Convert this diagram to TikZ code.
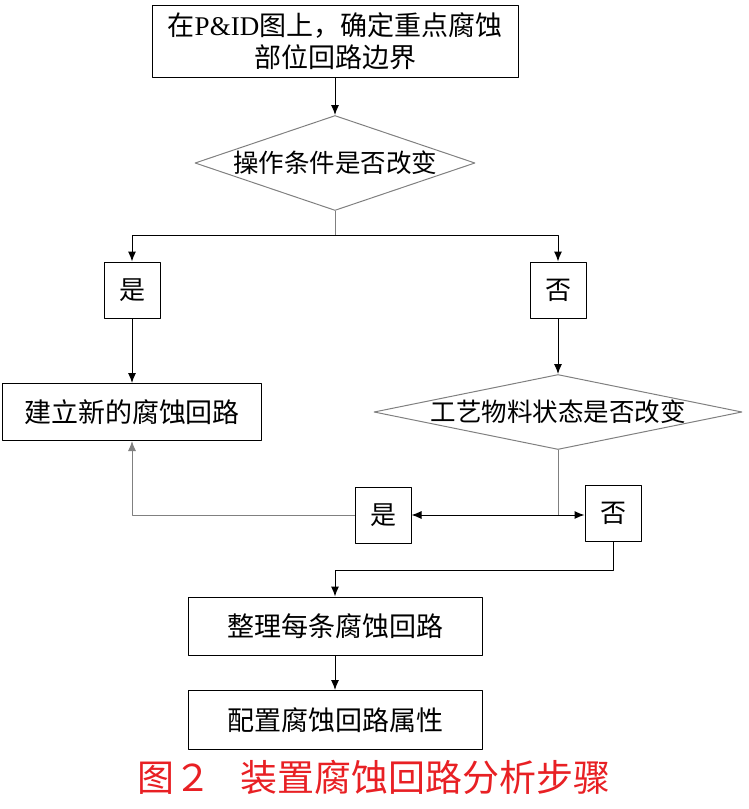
\documentclass[tikz,border=0pt]{standalone}
\usepackage{fontspec}
\setmainfont{Liberation Serif}
\newfontfamily\cjk{Noto Sans CJK SC}
\usetikzlibrary{shapes.geometric,arrows.meta}
\definecolor{captionred}{RGB}{232,32,36}
\tikzset{
  stepbox/.style={draw,line width=1pt,inner sep=0pt,align=center,
    font=\cjk\fontsize{27}{32}\selectfont},
  answer/.style={stepbox,minimum width=56pt,minimum height=56pt,
    font=\cjk\fontsize{26}{30}\selectfont},
  decision/.style={draw=gray,line width=1pt,diamond,inner sep=0pt,
    label={[font=\cjk\fontsize{25.5}{30}\selectfont]center:#1}},
}
\begin{document}
\begin{tikzpicture}[x=1pt,y=-1pt,>={Latex[length=10pt,width=8pt]},line join=round,line width=1pt]
\useasboundingbox (0,0) rectangle (748,809);
% steps
\node[stepbox,minimum width=366pt,minimum height=72pt] (start) at (335,41)
  {在{\rmfamily P\&ID}图上，确定重点腐蚀\\部位回路边界};
\node[decision=操作条件是否改变,minimum width=280pt,minimum height=95pt] (cond1) at (335,163) {};
\node[answer] (yes1) at (132,290) {是};
\node[answer] (no1) at (558,290) {否};
\node[stepbox,minimum width=259pt,minimum height=57pt] (newloop) at (132,412) {建立新的腐蚀回路};
\node[decision=工艺物料状态是否改变,minimum width=368pt,minimum height=75pt] (cond2) at (558,412) {};
\node[answer] (yes2) at (383,515) {是};
\node[answer] (no2) at (613,513) {否};
\node[stepbox,minimum width=294pt,minimum height=58pt] (sortloop) at (335,626) {整理每条腐蚀回路};
\node[stepbox,minimum width=294pt,minimum height=59pt] (config) at (335,720) {配置腐蚀回路属性};
\node[text=captionred,font=\cjk\fontsize{37}{40}\selectfont] (caption) at (374,777)
  {图２\hspace{0.8em}装置腐蚀回路分析步骤};
% connectors
\coordinate (split1) at (335,235);
\coordinate (split2) at (558,515);
\coordinate (bend) at (613,570);
\draw[->] (start) -- (cond1);
\draw[gray] (cond1.south) -- (split1);
\draw[->] (split1) -| (yes1.north);
\draw[->] (split1) -| (no1.north);
\draw[->] (yes1) -- (newloop);
\draw[->] (no1) -- (cond2);
\draw[gray] (cond2.south) -- (split2);
\draw[->] (split2) -- (yes2.east);
\draw[->] (split2) -- (no2.west |- split2);
\draw[->,gray] (yes2.west) -| (newloop.south);
\draw[->] (no2.south) -- (bend) -| (sortloop.north);
\draw[->] (sortloop) -- (config);
\end{tikzpicture}
\end{document}
